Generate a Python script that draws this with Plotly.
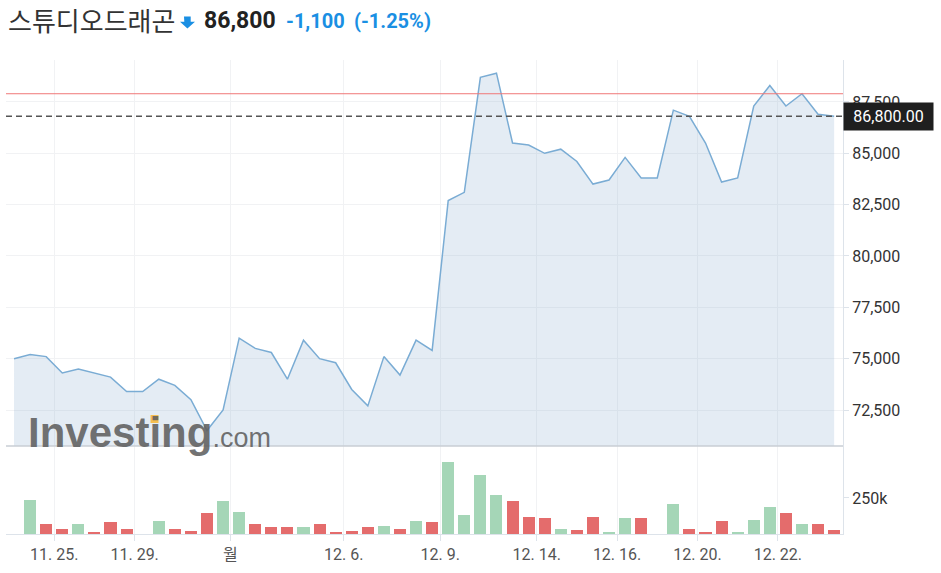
import plotly.graph_objects as go

# ---------------- data ----------------
title_name = "스튜디오드래곤"
last_price_text = "86,800"
change_text = "-1,100"
change_pct_text = "(-1.25%)"
last_label_text = "86,800.00"

close = [75000, 75200, 75100, 74300, 74500, 74300, 74100, 73400, 73400, 74000,
         73700, 73000, 71500, 72500, 76000, 75500, 75300, 74000, 75900, 75000,
         74800, 73500, 72700, 75100, 74200, 75900, 75400, 82700, 83100, 88700,
         88900, 85500, 85400, 85000, 85200, 84600, 83500, 83700, 84800, 83800,
         83800, 87100, 86800, 85500, 83600, 83800, 87300, 88300, 87300, 87900,
         86900, 86800]

volume = [0, 238000, 70000, 37000, 70000, 9000, 82000, 37000, 0, 91000,
          37000, 19000, 145000, 226000, 154000, 70000, 49000, 49000, 49000, 70000,
          9000, 19000, 49000, 58000, 37000, 91000, 82000, 499000, 133000, 406000,
          268000, 226000, 121000, 112000, 37000, 26000, 121000, 7000, 112000, 112000,
          0, 205000, 37000, 16000, 91000, 7000, 100000, 184000, 145000, 70000,
          70000, 28000]

prev_close = 87900
last_close = 86800

x_tick_pos = [2.5, 7.5, 13.45, 20.5, 26.5, 32.5, 37.5, 42.5, 47.5]
x_tick_text = ["11. 25.", "11. 29.", "월", "12. 6.", "12. 9.", "12. 14.", "12. 16.", "12. 20.", "12. 22."]

price_ticks = [72500, 75000, 77500, 80000, 82500, 85000, 87500]
vol_ticks = [250000]
vol_tick_text = ["250k"]

# ---------------- layout geometry ----------------
W, H = 941, 573
L, R, T, B = 6, 843, 60, 534
SPLIT = 446  # pixel y of panel separator


def px_x(px):
    return (px - L) / (R - L)


def px_y(py):
    return (B - py) / (B - T)


idx = list(range(len(close)))
GREEN = "rgb(165,214,183)"
RED = "rgb(228,108,108)"
bar_colors = [GREEN] + [GREEN if close[i] >= close[i - 1] else RED for i in range(1, len(close))]

fig = go.Figure()

fig.add_trace(go.Scatter(
    x=idx, y=close, mode="lines",
    line=dict(color="rgb(122,172,212)", width=1.5),
    fill="tozeroy", fillcolor="rgba(130,170,205,0.22)",
    xaxis="x", yaxis="y", hoverinfo="skip", showlegend=False,
))

fig.add_trace(go.Bar(
    x=idx, y=volume, marker=dict(color=bar_colors, line=dict(width=0)),
    width=0.75, xaxis="x", yaxis="y2", hoverinfo="skip", showlegend=False,
))

tick_font = dict(family="Roboto, 'Noto Sans CJK KR', sans-serif", size=16, color="#333333")
axis_line = "#dde3ea"
grid = "#f1f2f4"

fig.update_layout(
    width=W, height=H,
    margin=dict(l=L, r=W - R, t=T, b=H - B, pad=0),
    paper_bgcolor="white", plot_bgcolor="white",
    bargap=0,
    xaxis=dict(
        range=[-0.5, 51.55], anchor="y2",
        tickmode="array", tickvals=x_tick_pos, ticktext=x_tick_text,
        ticks="outside", ticklen=6, tickcolor=axis_line,
        showline=True, linecolor=axis_line, linewidth=1,
        showgrid=True, gridcolor=grid, gridwidth=1,
        zeroline=False,
        tickfont=dict(family="Roboto, 'Noto Sans CJK KR', sans-serif", size=16, color="#555555"),
    ),
    yaxis=dict(
        domain=[px_y(SPLIT), 1], range=[70747, 89543], anchor="x", side="right",
        tickmode="array", tickvals=price_ticks, tickformat=",d",
        ticks="outside", ticklen=5, tickcolor=axis_line,
        showline=True, linecolor=axis_line, linewidth=1,
        showgrid=True, gridcolor=grid, gridwidth=1, zeroline=False,
        tickfont=tick_font,
    ),
    yaxis2=dict(
        domain=[0, px_y(SPLIT)], range=[0, 610000], anchor="x", side="right",
        tickmode="array", tickvals=vol_ticks, ticktext=vol_tick_text,
        ticks="outside", ticklen=5, tickcolor=axis_line,
        showline=True, linecolor=axis_line, linewidth=1,
        showgrid=False, zeroline=False,
        tickfont=tick_font,
    ),
)

# reference lines
fig.add_shape(type="line", xref="paper", yref="y", x0=0, x1=1, y0=prev_close, y1=prev_close,
              line=dict(color="rgb(240,120,120)", width=1))
fig.add_shape(type="line", xref="paper", yref="y", x0=0, x1=1, y0=last_close, y1=last_close,
              line=dict(color="#555555", width=1.5, dash="6px,4px"))
# panel separator
fig.add_shape(type="line", xref="paper", yref="paper", x0=0, x1=1, y0=px_y(SPLIT), y1=px_y(SPLIT),
              line=dict(color="#c9ced4", width=1.5))

# last price label box
fig.add_annotation(xref="paper", yref="y", x=1, y=last_close, xanchor="left", yanchor="middle",
                   text=last_label_text, showarrow=False, bgcolor="#1f1f1f",
                   width=89, height=27, borderpad=0,
                   font=dict(family="Roboto, sans-serif", size=16, color="white"))

# watermark
fig.add_annotation(xref="paper", yref="paper", x=px_x(26), y=px_y(432), xanchor="left", yanchor="middle",
                   text="<b>Investing</b><span style='font-size:27px'>.com</span>", showarrow=False,
                   font=dict(family="Liberation Sans, Arial, sans-serif", size=42, color="rgba(95,95,95,0.88)"))
fig.add_shape(type="rect", xref="paper", yref="paper", x0=px_x(150.5), x1=px_x(158.5),
              y0=px_y(423), y1=px_y(415), fillcolor="rgb(245,190,80)", line=dict(width=0))

# header
fig.add_annotation(xref="paper", yref="paper", x=px_x(6), y=px_y(20), xanchor="left", yanchor="middle",
                   text=title_name, showarrow=False,
                   font=dict(family="'Noto Sans CJK KR', sans-serif", size=26, color="#333333"))

# down arrow icon
ax = [184, 190.7, 190.7, 195, 187.4, 180, 184.3]
ay = [16.5, 16.5, 21.7, 21.7, 28.5, 21.7, 21.7]
arrow_path = "M " + " L ".join(f"{px_x(a):.5f},{px_y(b):.5f}" for a, b in zip(ax, ay)) + " Z"
fig.add_shape(type="path", xref="paper", yref="paper", path=arrow_path,
              fillcolor="#1a8fe3", line=dict(width=0))

fig.add_annotation(xref="paper", yref="paper", x=px_x(202), y=px_y(20.5), xanchor="left", yanchor="middle",
                   text="<b>" + last_price_text + "</b>", showarrow=False,
                   font=dict(family="Roboto, Arial, sans-serif", size=23, color="#222222"))
fig.add_annotation(xref="paper", yref="paper", x=px_x(284), y=px_y(20.5), xanchor="left", yanchor="middle",
                   text="<b>" + change_text + "</b>", showarrow=False,
                   font=dict(family="Roboto, Arial, sans-serif", size=20, color="#1a8fe3"))
fig.add_annotation(xref="paper", yref="paper", x=px_x(352), y=px_y(20.5), xanchor="left", yanchor="middle",
                   text="<b>" + change_pct_text + "</b>", showarrow=False,
                   font=dict(family="Roboto, Arial, sans-serif", size=20, color="#1a8fe3"))

fig.write_html("out.html", config={"displayModeBar": False},
               post_script="document.body.style.margin='0';")
